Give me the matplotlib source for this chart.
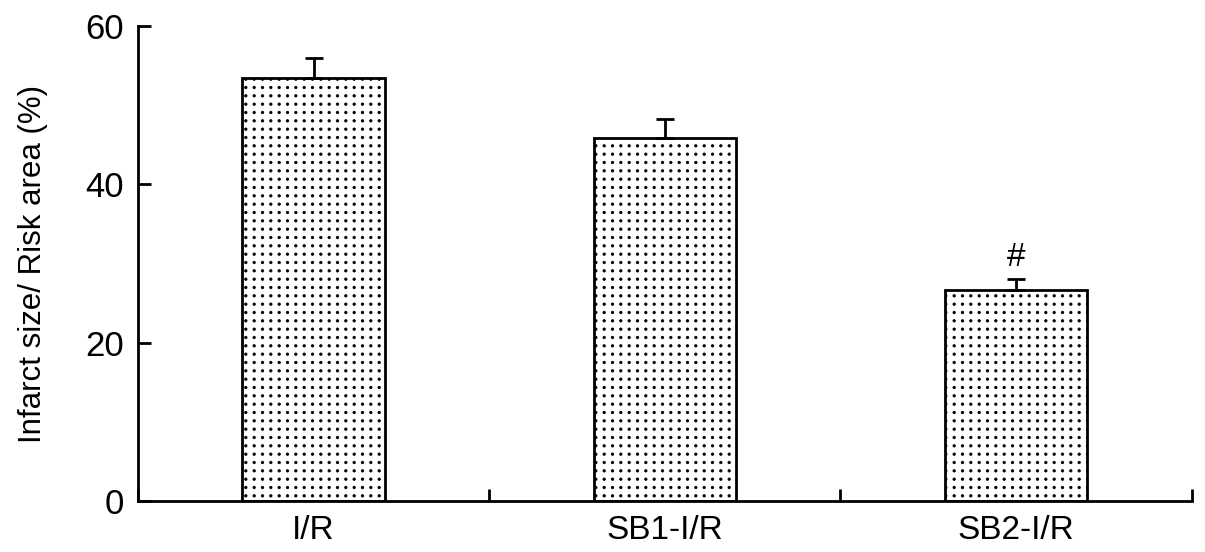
import matplotlib
matplotlib.use("Agg")
import matplotlib.pyplot as plt
import matplotlib.hatch as mhatch
from matplotlib.path import Path
import numpy as np

categories = ["I/R", "SB1-I/R", "SB2-I/R"]
values = [53.4, 45.9, 26.6]
errors = [2.6, 2.3, 1.4]
annotations = ["", "", "#"]
y_ticks = [0, 20, 40, 60]


# Square-grid dot texture for the '.' hatch (reference uses an aligned dot grid)
class GridDots(mhatch.HatchPatternBase):
    def __init__(self, hatch, density):
        self.n = hatch.count('.') * 12
        self._circ = Path.unit_circle()
        self.num_vertices = self.n * self.n * len(self._circ.vertices)

    def set_vertices_and_codes(self, vertices, codes):
        nv = len(self._circ.vertices)
        r = 0.012
        k = 0
        for i in range(self.n):
            for j in range(self.n):
                cx = (i + 0.5) / self.n
                cy = (j + 0.5) / self.n
                vertices[k:k + nv] = self._circ.vertices * r + [cx, cy]
                codes[k:k + nv] = self._circ.codes
                k += nv


mhatch._hatch_types = [GridDots if t is mhatch.SmallFilledCircles else t
                       for t in mhatch._hatch_types]

plt.rcParams['font.family'] = ['Liberation Sans', 'DejaVu Sans']
plt.rcParams['hatch.linewidth'] = 0.6
plt.rcParams['hatch.color'] = 'black'

fig = plt.figure(figsize=(12.05, 5.52), dpi=100)
ax = fig.add_axes([0.1145, 0.0924, 0.8745, 0.8605])

x = np.arange(len(categories))
ax.bar(x, values, width=0.405, color='white', edgecolor='black',
       linewidth=2.0, hatch='.', zorder=2)
ax.errorbar(x, values, yerr=[np.zeros(len(errors)), errors], fmt='none',
            ecolor='black', elinewidth=2.0, capsize=6.5, capthick=2.0, zorder=3)
for xi, v, e, a in zip(x, values, errors, annotations):
    if a:
        ax.text(xi, v + e + 0.8, a, ha='center', va='bottom', fontsize=24)

ax.set_xlim(-0.5, len(categories) - 0.5)
ax.set_ylim(0, 60)
ax.set_yticks(y_ticks)
ax.set_xticks(np.arange(len(categories) + 1) - 0.5)
ax.set_xticklabels([])
ax.set_xticks(x, minor=True)
ax.set_xticklabels(categories, minor=True)
ax.tick_params(axis='x', which='minor', length=0, labelsize=24, pad=10)
ax.tick_params(axis='x', which='major', direction='in', length=9, width=2)
ax.tick_params(axis='y', direction='in', length=9, width=2, labelsize=25, pad=10)

for s in ['top', 'right']:
    ax.spines[s].set_visible(False)
for s in ['left', 'bottom']:
    ax.spines[s].set_linewidth(2.0)

ax.set_ylabel("Infarct size/ Risk area (%)", fontsize=22.5, labelpad=27)

fig.savefig("out.png", dpi=100)
